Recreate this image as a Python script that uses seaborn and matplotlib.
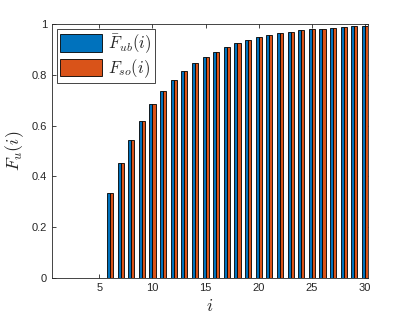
import numpy as np
import pandas as pd
import matplotlib
matplotlib.use('Agg')
import matplotlib.pyplot as plt
import seaborn as sns

# values (i = 6..30, nothing drawn for i = 1..5)
idx = list(range(6, 31))
f_ub = [0.333, 0.451, 0.543, 0.619, 0.684, 0.736, 0.778, 0.815, 0.846, 0.870,
        0.891, 0.908, 0.924, 0.937, 0.948, 0.957, 0.963, 0.970, 0.975, 0.979,
        0.982, 0.984, 0.987, 0.991, 0.992]
f_so = [0.333, 0.451, 0.543, 0.619, 0.684, 0.736, 0.778, 0.815, 0.846, 0.870,
        0.891, 0.908, 0.924, 0.937, 0.948, 0.957, 0.963, 0.970, 0.975, 0.979,
        0.982, 0.984, 0.987, 0.991, 0.992]
labels = [r'$\bar{F}_{ub}(i)$', r'$F_{so}(i)$']
colors = ['#0072BD', '#D95319']

df = pd.DataFrame({
    'i': idx * 2,
    'F': f_ub + f_so,
    'series': [labels[0]] * len(idx) + [labels[1]] * len(idx),
})

sns.set_style('white')
plt.rcParams['font.family'] = ['Liberation Sans', 'DejaVu Sans']
plt.rcParams['mathtext.fontset'] = 'cm'

fig = plt.figure(figsize=(4.07, 3.25), dpi=100)
ax = fig.add_axes([0.128, 0.145, 0.776, 0.781])

sns.barplot(data=df, x='i', y='F', hue='series', palette=colors,
            native_scale=True, width=0.58, saturation=1, edgecolor='black',
            linewidth=0.6, errorbar=None, ax=ax)

ax.set_xlim(0.55, 30.28)
ax.set_ylim(0, 1)
ax.set_xticks([5, 10, 15, 20, 25, 30])
ax.set_yticks([0, 0.2, 0.4, 0.6, 0.8, 1])
ax.set_yticklabels(['0', '0.2', '0.4', '0.6', '0.8', '1'])
ax.tick_params(direction='in', length=3, width=0.6, colors='#262626',
               labelsize=8, top=True, right=True, bottom=True, left=True)
for s in ax.spines.values():
    s.set_color('#262626')
    s.set_linewidth(0.6)

ax.set_xlabel(r'$i$', fontsize=13, color='#262626')
ax.set_ylabel(r'$F_u(i)$', fontsize=13, color='#262626')

leg = ax.legend(loc='upper left', fontsize=12, handlelength=2.5,
                handleheight=1.25, borderpad=0.2, labelspacing=0.1,
                handletextpad=0.35, fancybox=False, framealpha=1,
                borderaxespad=0.3)
leg.get_frame().set_edgecolor('#262626')
leg.get_frame().set_linewidth(0.6)

fig.savefig('out.png', dpi=100)
